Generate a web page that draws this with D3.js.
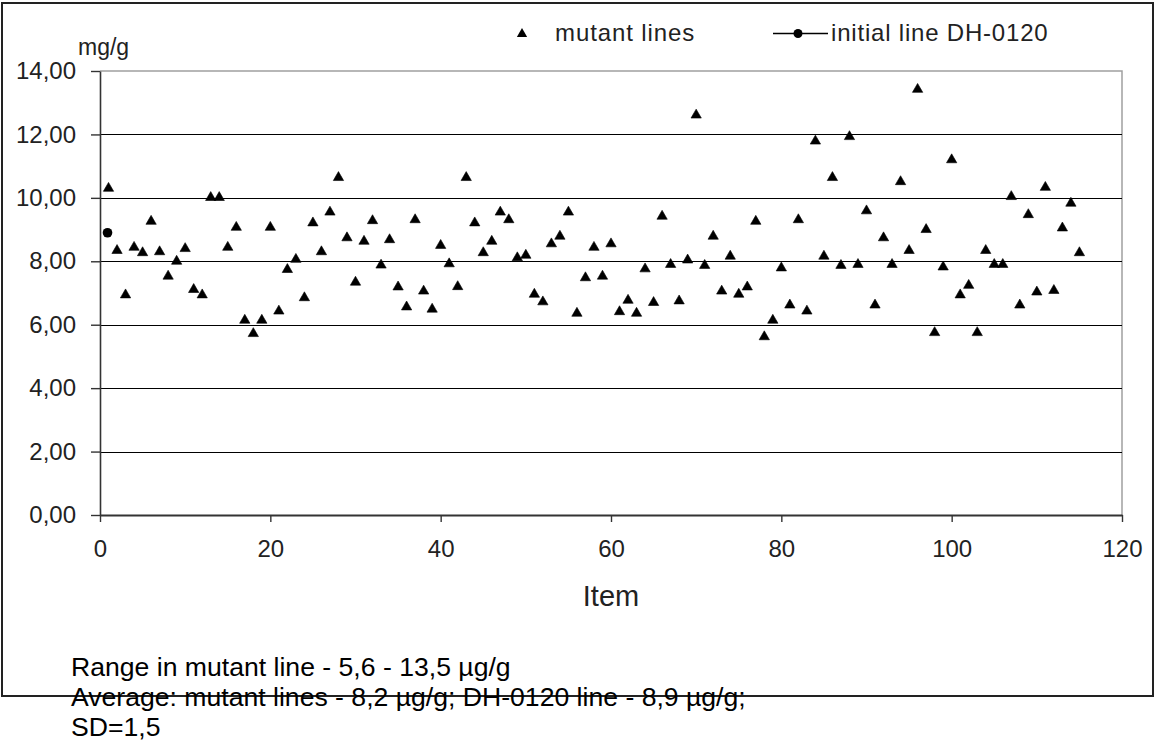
<!DOCTYPE html>
<html>
<head>
<meta charset="utf-8">
<script src="https://cdn.jsdelivr.net/npm/d3@7"></script>
<style>
  body { margin: 0; background: #fff; }
  svg { display: block; font-family: 'Liberation Sans', Arial, sans-serif; }
</style>
</head>
<body>
<svg width="1157" height="743"></svg>
<script>
// values per item (item number = position in list, starting at 1)
var mutantValues = [
  10.30, 8.34, 6.94, 8.44, 8.27, 9.26, 8.30, 7.53, 8.00, 8.40,
  7.11, 6.94, 10.01, 10.01, 8.44, 9.07, 6.14, 5.72, 6.14, 9.07,
  6.43, 7.74, 8.06, 6.85, 9.21, 8.30, 9.55, 10.64, 8.74, 7.34,
  8.63, 9.28, 7.88, 8.68, 7.19, 6.56, 9.31, 7.06, 6.49, 8.50,
  7.92, 7.20, 10.64, 9.21, 8.27, 8.63, 9.55, 9.31, 8.11, 8.19,
  6.96, 6.72, 8.55, 8.79, 9.55, 6.36, 7.48, 8.44, 7.53, 8.55,
  6.41, 6.77, 6.36, 7.76, 6.70, 9.42, 7.90, 6.75, 8.04, 12.61,
  7.87, 8.79, 7.06, 8.16, 6.96, 7.19, 9.26, 5.62, 6.14, 7.79,
  6.62, 9.31, 6.43, 11.79, 8.16, 10.64, 7.87, 11.93, 7.90, 9.59,
  6.62, 8.74, 7.90, 10.51, 8.34, 13.42, 9.00, 5.75, 7.82, 11.20,
  6.94, 7.24, 5.75, 8.34, 7.90, 7.90, 10.04, 6.62, 9.47, 7.03,
  10.33, 7.08, 9.05, 9.83, 8.27
];
var initialLine = [{ item: 1, value: 8.9 }];

var xTicks = [0, 20, 40, 60, 80, 100, 120];
var yTicks = [0, 2, 4, 6, 8, 10, 12, 14];
var gridValues = [2, 4, 6, 8, 10, 12];

var legendLabels = ['mutant lines', 'initial line DH-0120'];
var notes = [
  'Range in mutant line - 5,6 - 13,5 \u00b5g/g',
  'Average: mutant lines - 8,2 \u00b5g/g; DH-0120 line - 8,9 \u00b5g/g;',
  'SD=1,5'
];

function renderChart() {
  var svg = d3.select('svg'),
    margin = { top: 71, right: 35, bottom: 228, left: 100 },
    width = +svg.attr('width') - margin.left - margin.right,
    height = +svg.attr('height') - margin.top - margin.bottom;

  var x = d3.scaleLinear().domain([0, 120]).range([0, width]);
  var y = d3.scaleLinear().domain([0, 14]).range([height, 0]);

  var commaFormat = function (d) {
    return d3.format('.2f')(d).replace('.', ',');
  };

  // outer chart frame
  svg.append('rect')
    .attr('x', 2).attr('y', 3)
    .attr('width', 1151).attr('height', 693)
    .attr('fill', 'none')
    .attr('stroke', '#222')
    .attr('stroke-width', 2);

  var g = svg.append('g')
    .attr('transform', 'translate(' + margin.left + ',' + margin.top + ')');

  // plot area border (top + right), grey
  g.append('path')
    .attr('d', 'M0,' + y(14) + 'H' + x(120) + 'V' + y(0))
    .attr('fill', 'none')
    .attr('stroke', '#a0a0a0')
    .attr('stroke-width', 1.5);

  // gridlines
  g.selectAll('.grid')
    .data(gridValues)
    .enter()
    .append('line')
    .attr('class', 'grid')
    .attr('x1', 0)
    .attr('x2', x(120))
    .attr('y1', function (d) { return Math.round(y(d)) + 0.5; })
    .attr('y2', function (d) { return Math.round(y(d)) + 0.5; })
    .attr('stroke', '#000')
    .attr('stroke-width', 1.2);

  // Y axis
  var yAxis = g.append('g')
    .call(d3.axisLeft(y).tickValues(yTicks).tickSize(9).tickSizeOuter(0)
      .tickPadding(15).tickFormat(commaFormat));
  yAxis.select('.domain').attr('stroke', '#333').attr('stroke-width', 1.6);
  yAxis.selectAll('.tick line').attr('stroke', '#333').attr('stroke-width', 1.4);
  yAxis.selectAll('text')
    .attr('font-size', 24)
    .attr('font-family', "'Liberation Sans', Arial, sans-serif")
    .attr('fill', '#222');

  // X axis
  var xAxis = g.append('g')
    .attr('transform', 'translate(0,' + height + ')')
    .call(d3.axisBottom(x).tickValues(xTicks).tickSize(7).tickSizeOuter(0)
      .tickPadding(18));
  xAxis.select('.domain').attr('stroke', '#333').attr('stroke-width', 1.8);
  xAxis.selectAll('.tick line').attr('stroke', '#333').attr('stroke-width', 1.4);
  xAxis.selectAll('text')
    .attr('font-size', 24)
    .attr('font-family', "'Liberation Sans', Arial, sans-serif")
    .attr('fill', '#222');

  // axis titles
  g.append('text')
    .attr('x', x(60))
    .attr('y', 535)
    .attr('text-anchor', 'middle')
    .attr('font-size', 29)
    .attr('fill', '#222')
    .text('Item');

  svg.append('text')
    .attr('x', 78)
    .attr('y', 55)
    .attr('font-size', 23)
    .attr('fill', '#222')
    .text('mg/g');

  // mutant points
  var triangle = d3.symbol().type(d3.symbolTriangle).size(46);
  g.selectAll('.mutant')
    .data(mutantValues)
    .enter()
    .append('path')
    .attr('class', 'mutant')
    .attr('d', triangle)
    .attr('transform', function (d, i) {
      return 'translate(' + x(i + 1) + ',' + y(d) + ')';
    })
    .attr('fill', '#000')
    .attr('stroke', '#000')
    .attr('stroke-width', 0.6);

  // initial line point
  g.selectAll('.initial')
    .data(initialLine)
    .enter()
    .append('circle')
    .attr('class', 'initial')
    .attr('cx', function (d) { return x(d.item) - 1; })
    .attr('cy', function (d) { return y(d.value); })
    .attr('r', 4.8)
    .attr('fill', '#000');

  // legend
  var legend = svg.append('g');
  legend.append('path')
    .attr('d', triangle)
    .attr('transform', 'translate(522,34)')
    .attr('fill', '#000');
  legend.append('text')
    .attr('x', 555)
    .attr('y', 41)
    .attr('font-size', 24)
    .attr('letter-spacing', 0.9)
    .attr('fill', '#222')
    .text(legendLabels[0]);
  legend.append('line')
    .attr('x1', 773).attr('x2', 828)
    .attr('y1', 33.5).attr('y2', 33.5)
    .attr('stroke', '#000')
    .attr('stroke-width', 1.5);
  legend.append('circle')
    .attr('cx', 798).attr('cy', 33.5).attr('r', 4.5)
    .attr('fill', '#000');
  legend.append('text')
    .attr('x', 831)
    .attr('y', 41)
    .attr('font-size', 24)
    .attr('letter-spacing', 0.8)
    .attr('fill', '#222')
    .text(legendLabels[1]);

  // notes below chart
  svg.selectAll('.note')
    .data(notes)
    .enter()
    .append('text')
    .attr('class', 'note')
    .attr('x', 71)
    .attr('y', function (d, i) { return 676 + i * 30; })
    .attr('font-size', 26.6)
    .attr('fill', '#000')
    .text(function (d) { return d; });
}

renderChart();
</script>
</body>
</html>
